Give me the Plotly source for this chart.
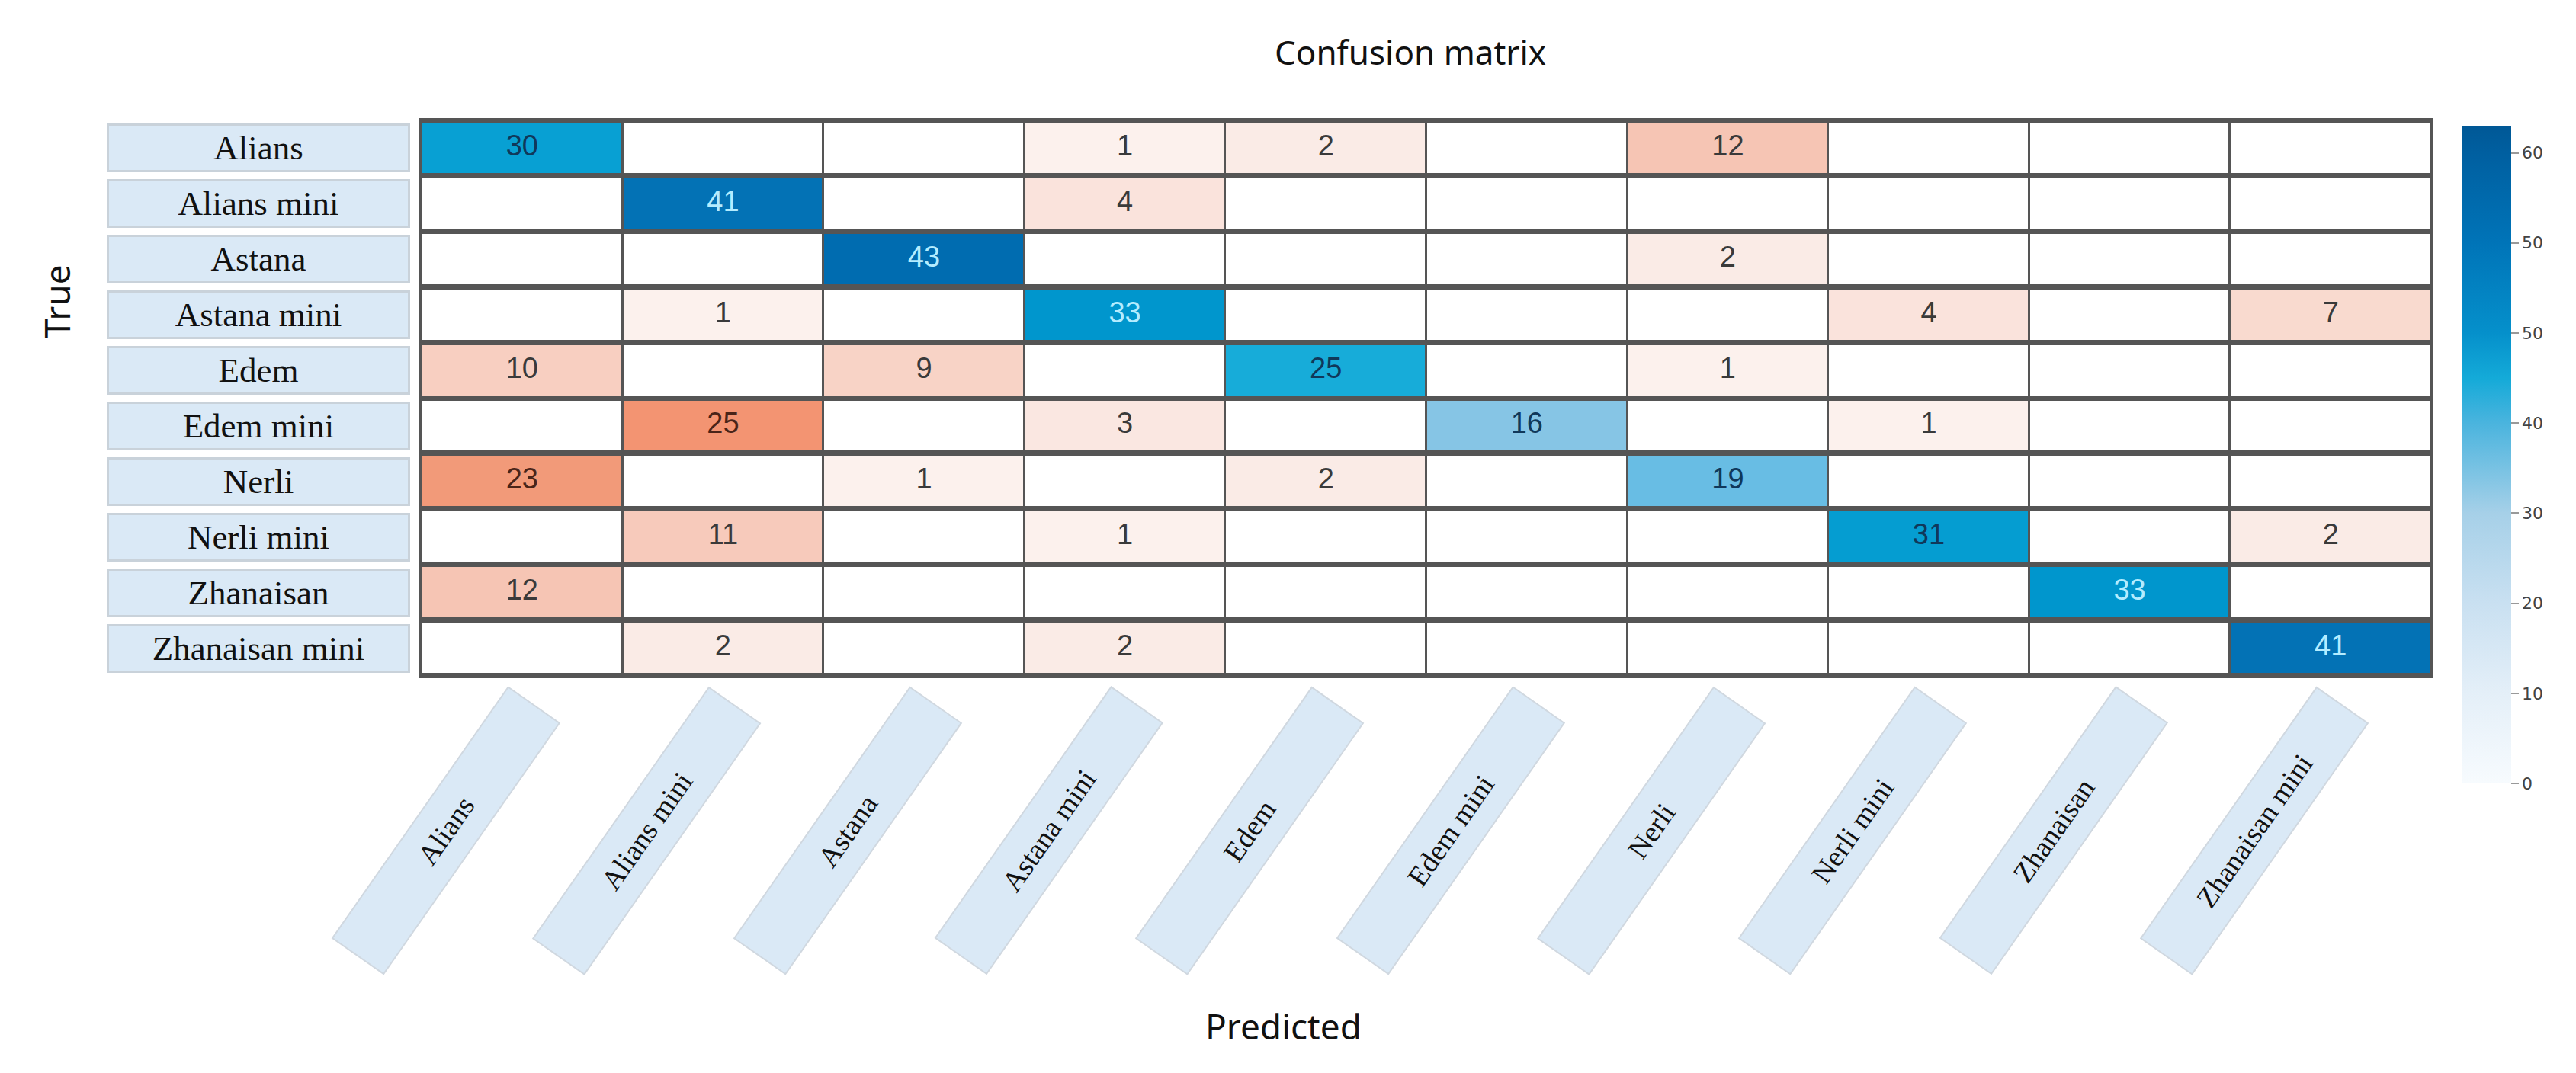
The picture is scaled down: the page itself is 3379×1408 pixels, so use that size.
import plotly.graph_objects as go

labels = ["Alians", "Alians mini", "Astana", "Astana mini", "Edem", "Edem mini",
          "Nerli", "Nerli mini", "Zhanaisan", "Zhanaisan mini"]
x_tick_labels = ["Alians", "Alians mini", "Astana", "Astana mini", "Edem", "Edem mini",
                 "Nerli", "Nerli mini", "Zhanaisan", "Zhanaisan mini"]
y_tick_labels = ["Alians", "Alians mini", "Astana", "Astana mini", "Edem", "Edem mini",
                 "Nerli", "Nerli mini", "Zhanaisan", "Zhanaisan mini"]

row_alians = [30, 0, 0, 1, 2, 0, 12, 0, 0, 0]
row_alians_mini = [0, 41, 0, 4, 0, 0, 0, 0, 0, 0]
row_astana = [0, 0, 43, 0, 0, 0, 2, 0, 0, 0]
row_astana_mini = [0, 1, 0, 33, 0, 0, 0, 4, 0, 7]
row_edem = [10, 0, 9, 0, 25, 0, 1, 0, 0, 0]
row_edem_mini = [0, 25, 0, 3, 0, 16, 0, 1, 0, 0]
row_nerli = [23, 0, 1, 0, 2, 0, 19, 0, 0, 0]
row_nerli_mini = [0, 11, 0, 1, 0, 0, 0, 31, 0, 2]
row_zhanaisan = [12, 0, 0, 0, 0, 0, 0, 0, 33, 0]
row_zhanaisan_mini = [0, 2, 0, 2, 0, 0, 0, 0, 0, 41]

colorbar_tickvals = [0, 10, 20, 30, 40, 50, 60, 70]
colorbar_ticktext = ["0", "10", "20", "30", "40", "50", "50", "60"]

matrix = [row_alians, row_alians_mini, row_astana, row_astana_mini, row_edem,
          row_edem_mini, row_nerli, row_nerli_mini, row_zhanaisan, row_zhanaisan_mini]

n = len(labels)
diag_z = [[matrix[i][j] if (i == j and matrix[i][j] > 0) else None for j in range(n)] for i in range(n)]
off_z = [[matrix[i][j] if (i != j and matrix[i][j] > 0) else None for j in range(n)] for i in range(n)]
base_z = [[0 for j in range(n)] for i in range(n)]

blue_cells = [
    [0.0, "#f7fbfe"], [16 / 45, "#86c5e5"], [19 / 45, "#68bde4"], [25 / 45, "#17acd9"],
    [30 / 45, "#08a0d3"], [33 / 45, "#0096cd"], [41 / 45, "#0372b5"], [43 / 45, "#006cb0"],
    [1.0, "#0066aa"],
]
red_cells = [
    [0.0, "#ffffff"], [1 / 25, "#fcf1ed"], [2 / 25, "#faebe6"], [4 / 25, "#fae3dc"],
    [7 / 25, "#f9dacf"], [10 / 25, "#f8cfc1"], [12 / 25, "#f6c5b4"], [23 / 25, "#f29a79"],
    [1.0, "#f39472"],
]
bar_scale = [
    [0.0, "#f7fbfe"], [10 / 73, "#e4eff8"], [20 / 73, "#c9e0f1"], [30 / 73, "#a6d0e8"],
    [40 / 73, "#4ab4de"], [45 / 73, "#14aad8"], [50 / 73, "#0590cb"], [60 / 73, "#0074b8"],
    [70 / 73, "#005fa0"], [1.0, "#005896"],
]

XG, YG = 3, 7
fig = go.Figure()
fig.add_trace(go.Heatmap(z=base_z, x=labels, y=labels, colorscale=[[0, "#ffffff"], [1, "#ffffff"]],
                         showscale=False, xgap=XG, ygap=YG, hoverinfo="skip"))
fig.add_trace(go.Heatmap(z=off_z, x=labels, y=labels, colorscale=red_cells, zmin=0, zmax=25,
                         showscale=False, xgap=XG, ygap=YG))
fig.add_trace(go.Heatmap(z=diag_z, x=labels, y=labels, colorscale=blue_cells, zmin=0, zmax=45,
                         showscale=False, xgap=XG, ygap=YG))

# cell numbers
tx, ty, tt, tc = [], [], [], []
for i in range(n):
    for j in range(n):
        v = matrix[i][j]
        if v > 0:
            tx.append(labels[j]); ty.append(labels[i]); tt.append(str(v))
            if i == j:
                tc.append("#b4ecff" if v >= 33 else "#10385a")
            else:
                tc.append("#4a2418" if v >= 20 else "#3a3a3a")
fig.add_trace(go.Scatter(x=tx, y=ty, text=tt, mode="text", hoverinfo="skip", showlegend=False,
                         textfont=dict(family="Liberation Sans Narrow, Arial Narrow, Liberation Sans",
                                       size=38, color=tc)))

# colorbar (legend of the colour scale)
fig.add_trace(go.Scatter(x=[labels[0], labels[0]], y=[labels[0], labels[0]], mode="markers",
                         showlegend=False, hoverinfo="skip", opacity=0,
                         marker=dict(color=[0, 73], colorscale=bar_scale, cmin=0, cmax=73, size=1,
                                     showscale=True,
                                     colorbar=dict(x=1.0114, xanchor="left", y=1.004, yanchor="top",
                                                   len=883, lenmode="pixels", thickness=65,
                                                   outlinewidth=0, ticks="outside", ticklen=10,
                                                   tickcolor="#999999", tickwidth=2,
                                                   tickvals=colorbar_tickvals, ticktext=colorbar_ticktext,
                                                   tickfont=dict(family="DejaVu Sans", size=22, color="#444444")))))

annotations = []
for lab in y_tick_labels:
    annotations.append(dict(x=-0.081, xref="paper", y=lab, yref="y", text=lab, showarrow=False,
                            xanchor="center", yanchor="middle", width=392, height=58,
                            bgcolor="#dae9f6", bordercolor="#c9d2da", borderwidth=3, borderpad=0,
                            font=dict(family="Liberation Serif", size=45, color="#111111")))
for lab in x_tick_labels:
    annotations.append(dict(x=lab, xref="x", y=-0.2785, yref="paper", text=lab, showarrow=False,
                            xanchor="center", yanchor="middle", xshift=-100, textangle=-55,
                            width=400, height=80, bgcolor="#dae9f6", bordercolor="#d0d8e0",
                            borderwidth=2, borderpad=0,
                            font=dict(family="Liberation Serif", size=38, color="#111111")))
annotations.append(dict(x=0.492, xref="paper", y=1.123, yref="paper", text="Confusion matrix",
                        showarrow=False, xanchor="center", yanchor="middle",
                        font=dict(family="Noto Sans", size=44, color="#111111")))
annotations.append(dict(x=0.429, xref="paper", y=-0.63, yref="paper", text="Predicted",
                        showarrow=False, xanchor="center", yanchor="middle",
                        font=dict(family="Noto Sans", size=46, color="#111111")))
annotations.append(dict(x=-0.182, xref="paper", y=0.674, yref="paper", text="True",
                        showarrow=False, xanchor="center", yanchor="middle", textangle=-90,
                        font=dict(family="Noto Sans", size=46, color="#111111")))

fig.update_layout(
    width=3379, height=1408,
    margin=dict(l=545, r=198, t=150, b=529),
    paper_bgcolor="#ffffff", plot_bgcolor="#555555",
    annotations=annotations, showlegend=False,
)
fig.update_xaxes(type="category", categoryorder="array", categoryarray=labels, range=[-0.5, n - 0.5],
                 showticklabels=False, ticks="", showgrid=False, zeroline=False,
                 showline=True, mirror=True, linecolor="#555555", linewidth=3)
fig.update_yaxes(type="category", categoryorder="array", categoryarray=labels, range=[n - 0.5, -0.5],
                 showticklabels=False, ticks="", showgrid=False, zeroline=False,
                 showline=True, mirror=True, linecolor="#555555", linewidth=3)

fig.write_html("out.html")
